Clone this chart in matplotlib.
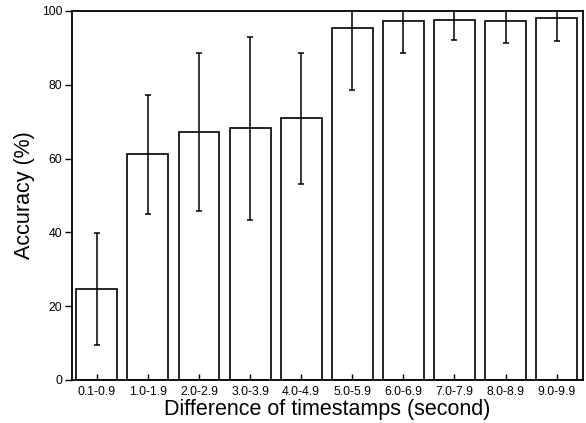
import matplotlib
matplotlib.use("Agg")
import matplotlib.pyplot as plt

categories = ["0.1-0.9", "1.0-1.9", "2.0-2.9", "3.0-3.9", "4.0-4.9",
              "5.0-5.9", "6.0-6.9", "7.0-7.9", "8.0-8.9", "9.0-9.9"]
accuracy = [24.7, 61.2, 67.3, 68.2, 70.9, 95.4, 97.4, 97.6, 97.2, 98.0]
errors = [15.2, 16.1, 21.4, 24.8, 17.8, 16.8, 8.9, 5.5, 5.8, 6.0]
yticks = [0, 20, 40, 60, 80, 100]

plt.rcParams['font.family'] = ['Liberation Sans', 'DejaVu Sans']

fig = plt.figure(figsize=(5.86, 4.23), dpi=100)
ax = fig.add_axes([0.1229, 0.1017, 0.8720, 0.8723])

x = list(range(len(categories)))
ax.bar(x, accuracy, width=0.8, color='white', edgecolor='black', linewidth=1.2,
       yerr=errors, error_kw=dict(ecolor='black', elinewidth=1.1, capsize=2.2, capthick=1.1))

ax.set_xlim(-0.485, 9.515)
ax.set_ylim(0, 100)
ax.set_xticks(x)
ax.set_xticklabels(categories, fontsize=8.8)
ax.set_yticks(yticks)
ax.set_yticklabels([str(v) for v in yticks], fontsize=8.8)
ax.tick_params(axis='x', direction='in', length=4, width=1, pad=4)
ax.tick_params(axis='y', direction='out', length=5, width=1, pad=2)
for s in ax.spines.values():
    s.set_linewidth(1.3)
ax.set_xlabel("Difference of timestamps (second)", fontsize=15.5, labelpad=1)
ax.set_ylabel("Accuracy (%)", fontsize=15.5, labelpad=5)

fig.savefig("out.png", dpi=100)
